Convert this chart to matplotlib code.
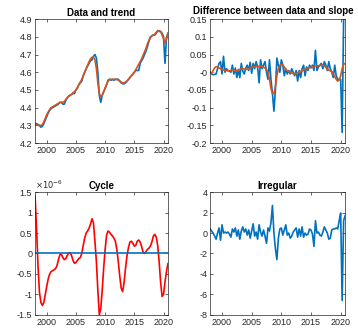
import matplotlib
matplotlib.use('Agg')
import matplotlib.pyplot as plt
import numpy as np
from matplotlib.ticker import FuncFormatter

# quarterly observations 1998Q1 .. 2020Q4
years = np.arange(1998, 2021, 0.25)

data = [4.31, 4.31, 4.305, 4.30,
        4.29, 4.295, 4.31, 4.33,
        4.35, 4.37, 4.385, 4.395,
        4.40, 4.405, 4.41, 4.415,
        4.42, 4.43, 4.43, 4.42,
        4.42, 4.44, 4.455, 4.465,
        4.47, 4.475, 4.48, 4.48,
        4.50, 4.51, 4.53, 4.54,
        4.55, 4.58, 4.60, 4.62,
        4.635, 4.65, 4.665, 4.67,
        4.69, 4.70, 4.68, 4.60,
        4.47, 4.43, 4.47, 4.49,
        4.51, 4.53, 4.555, 4.56,
        4.555, 4.56, 4.555, 4.56,
        4.56, 4.56, 4.55, 4.54,
        4.535, 4.535, 4.54, 4.55,
        4.56, 4.57, 4.58, 4.59,
        4.60, 4.61, 4.61, 4.61,
        4.65, 4.665, 4.68, 4.70,
        4.72, 4.745, 4.775, 4.80,
        4.805, 4.81, 4.81, 4.82,
        4.835, 4.83, 4.83, 4.82,
        4.80, 4.65, 4.79, 4.82]

trend = [4.305, 4.305, 4.30, 4.30,
         4.30, 4.305, 4.32, 4.34,
         4.36, 4.375, 4.39, 4.40,
         4.405, 4.41, 4.415, 4.42,
         4.425, 4.43, 4.43, 4.43,
         4.435, 4.445, 4.455, 4.465,
         4.47, 4.475, 4.485, 4.49,
         4.50, 4.515, 4.53, 4.545,
         4.56, 4.58, 4.60, 4.62,
         4.64, 4.66, 4.675, 4.685,
         4.685, 4.67, 4.62, 4.54,
         4.48, 4.46, 4.47, 4.49,
         4.51, 4.53, 4.55, 4.56,
         4.56, 4.56, 4.56, 4.56,
         4.56, 4.555, 4.55, 4.545,
         4.54, 4.54, 4.545, 4.55,
         4.56, 4.57, 4.58, 4.59,
         4.60, 4.615, 4.63, 4.645,
         4.66, 4.675, 4.695, 4.715,
         4.735, 4.76, 4.78, 4.795,
         4.805, 4.81, 4.815, 4.825,
         4.83, 4.835, 4.83, 4.81,
         4.79, 4.765, 4.79, 4.82]

diff_data = [0.0, -0.005, -0.007, -0.006,
             -0.005, 0.01, 0.025, 0.03,
             -0.005, 0.045, 0.0, 0.01,
             0.005, 0.003, 0.0, 0.02,
             -0.005, 0.012, -0.015, 0.008,
             -0.015, 0.025, 0.003, -0.005,
             0.012, 0.02, 0.005, 0.028,
             -0.003, 0.025, 0.01, 0.03,
             0.015, -0.03, 0.035, 0.01,
             0.02, 0.03, 0.0, -0.02,
             0.035, -0.02, -0.06, -0.11,
             -0.05, 0.04, 0.02, 0.0,
             0.035, 0.02, -0.01, 0.01,
             -0.005, 0.005, -0.005, 0.01,
             0.0, -0.01, 0.005, -0.025,
             0.005, -0.015, 0.01, 0.02,
             -0.01, 0.015, 0.005, 0.02,
             0.012, 0.02, 0.005, 0.062,
             0.005, 0.015, 0.02, 0.025,
             0.01, 0.03, 0.02, 0.005,
             0.03, 0.01, 0.0, -0.015,
             0.02, -0.01, -0.02, -0.02,
             -0.02, -0.17, 0.15, 0.15]

diff_trend = [0.0, -0.003, 0.005, 0.012,
              0.016, 0.015, 0.012, 0.01,
              0.008, 0.006, 0.005, 0.005,
              0.004, 0.004, 0.005, 0.006,
              0.006, 0.004, 0.003, 0.005,
              0.008, 0.01, 0.01, 0.009,
              0.008, 0.008, 0.01, 0.012,
              0.014, 0.015, 0.016, 0.016,
              0.016, 0.017, 0.018, 0.016,
              0.014, 0.012, 0.008, 0.0,
              -0.02, -0.045, -0.06, -0.06,
              -0.04, -0.01, 0.01, 0.02,
              0.022, 0.02, 0.015, 0.008,
              0.004, 0.002, 0.0, -0.002,
              -0.004, -0.005, -0.004, -0.002,
              0.0, 0.002, 0.004, 0.006,
              0.008, 0.01, 0.012, 0.013,
              0.014, 0.015, 0.016, 0.017,
              0.018, 0.018, 0.019, 0.02,
              0.02, 0.018, 0.014, 0.01,
              0.006, 0.004, 0.002, -0.005,
              -0.012, -0.02, -0.025, -0.022,
              -0.01, 0.01, 0.022, 0.025]

# cycle in units of 1e-6
cycle_e6 = [1.4, 0.6, -0.3, -0.95,
            -1.2, -1.27, -1.2, -1.0,
            -0.8, -0.62, -0.5, -0.44,
            -0.42, -0.4, -0.37, -0.3,
            -0.15, -0.03, -0.02, -0.1,
            -0.15, -0.13, -0.05, 0.01,
            0.02, -0.05, -0.17, -0.24,
            -0.22, -0.17, -0.12, -0.1,
            0.0, 0.2, 0.38, 0.5,
            0.55, 0.62, 0.72, 0.85,
            0.75, 0.3, -0.2, -0.9,
            -1.5, -1.35, -0.9, -0.35,
            0.1, 0.45, 0.55, 0.52,
            0.47, 0.43, 0.38, 0.3,
            0.1, -0.2, -0.55, -0.85,
            -0.93, -0.7, -0.35, -0.05,
            0.15, 0.28, 0.3, 0.25,
            0.18, 0.2, 0.3, 0.33,
            0.28, 0.17, 0.03, 0.0,
            0.05, 0.1, 0.13, 0.18,
            0.28, 0.42, 0.47, 0.4,
            0.2, -0.2, -0.7, -1.05,
            -1.0, -0.7, -0.45, -0.25]

irregular = [0.4, 0.2, 0.0, -0.3,
             -0.6, 0.0, 0.5, -0.7,
             0.8, 0.0, 0.1, 0.0,
             0.1, -0.1, -0.4, 0.4,
             0.1, 0.5, -0.3, 0.3,
             -0.6, 0.2, 0.6, 0.1,
             0.4, -0.2, 0.3, -0.5,
             0.2, 0.9, -0.3, 0.1,
             -0.6, 0.8, 0.1, -0.3,
             0.3, -0.3, -1.0, 0.5,
             0.2, 1.0, 2.7, 0.0,
             -1.5, -2.6, -0.5, 0.4,
             0.5, -0.2, 0.3, 0.8,
             -0.2, 0.0, -0.5, -0.3,
             0.1, 0.3, 0.5, -0.4,
             0.4, -0.3, 0.6, -0.4,
             0.0, -0.2, -0.1, 0.4,
             0.3, -0.1, -1.3, 1.2,
             0.0, 0.1, -0.2, -0.3,
             0.1, 0.6, 0.3, 0.0,
             -0.6, -0.5, 0.3, 0.4,
             0.4, 0.5, 0.4, 1.2,
             1.95, -6.6, 1.2, 1.7]

BLUE = '#0072BD'
ORANGE = '#D95319'
TXT = '#262626'

plt.rcParams['font.family'] = ['Liberation Sans', 'DejaVu Sans']
plt.rcParams['axes.unicode_minus'] = False

fig = plt.figure(figsize=(3.58, 3.29), dpi=100)
boxes = [[0.098, 0.565, 0.371, 0.377], [0.587, 0.565, 0.377, 0.377],
         [0.098, 0.043, 0.371, 0.373], [0.587, 0.043, 0.377, 0.373]]
axes = [fig.add_axes(b) for b in boxes]
fmt = FuncFormatter(lambda v, p: '%g' % round(v, 6))


def style(ax, title, ylim, yticks):
    ax.set_title(title, fontsize=7, fontweight='bold', pad=2.5, color='black')
    ax.set_xlim(1998, 2020.75)
    ax.set_xticks([2000, 2005, 2010, 2015, 2020])
    ax.set_ylim(*ylim)
    ax.set_yticks(yticks)
    ax.yaxis.set_major_formatter(fmt)
    ax.tick_params(direction='in', length=2, width=0.5, labelsize=6.5,
                   colors=TXT, top=True, right=True, pad=2)
    for s in ax.spines.values():
        s.set_linewidth(0.5)
        s.set_color(TXT)


ax = axes[0]
ax.plot(years, data, color=BLUE, lw=1.2)
ax.plot(years, trend, color=ORANGE, lw=1.2)
style(ax, 'Data and trend', (4.2, 4.9), np.arange(4.2, 4.91, 0.1))

ax = axes[1]
ax.plot(years, diff_data, color=BLUE, lw=1.2)
ax.plot(years, diff_trend, color=ORANGE, lw=1.2)
style(ax, 'Difference between data and slope', (-0.2, 0.15),
      np.arange(-0.2, 0.151, 0.05))
ax.set_title('Difference between data and slope', fontsize=7,
             fontweight='bold', pad=4, color='black', x=0.47)

ax = axes[2]
ax.plot(years, cycle_e6, color='red', lw=1.2)
ax.plot(years, np.zeros(len(years)), color=BLUE, lw=1.2)
style(ax, 'Cycle', (-1.5, 1.5), np.arange(-1.5, 1.51, 0.5))
ax.text(0.0, 1.01, r'$\times10^{-6}$', transform=ax.transAxes,
        fontsize=6, color=TXT, va='bottom', ha='left')

ax = axes[3]
ax.plot(years, irregular, color=BLUE, lw=1.2)
style(ax, 'Irregular', (-8, 4), np.arange(-8, 4.1, 2))

fig.savefig('out.png', dpi=100)
